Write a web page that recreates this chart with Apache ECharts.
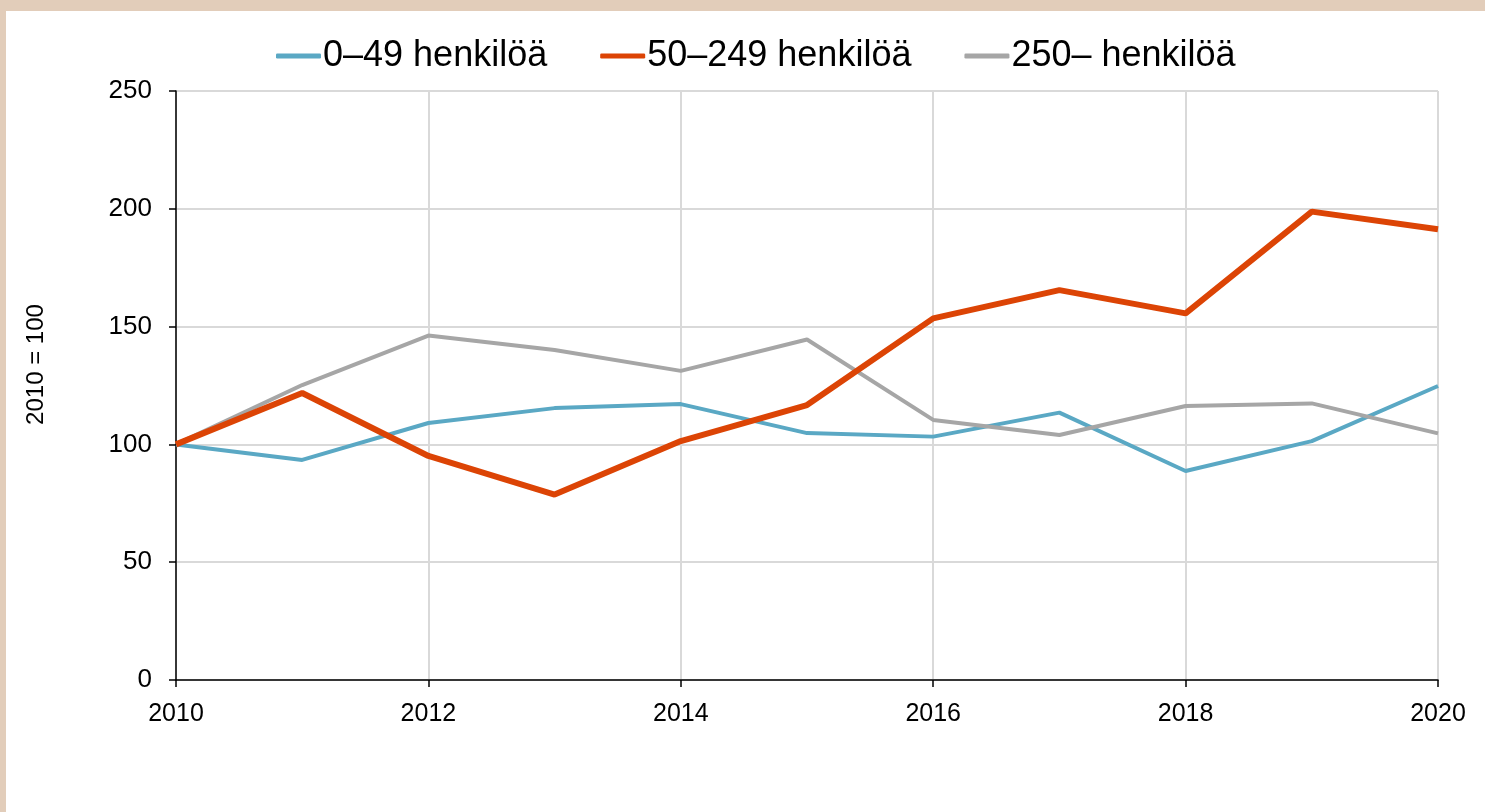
<!DOCTYPE html>
<html>
<head>
<meta charset="utf-8">
<script src="https://cdn.jsdelivr.net/npm/echarts@6/dist/echarts.min.js"></script>
<style>
  html, body { margin: 0; padding: 0; background: #e2cdba; }
  #main { position: absolute; left: 6px; top: 11px; width: 1479px; height: 801px; background: #ffffff; }
</style>
</head>
<body>
<div id="main"></div>
<script>
var years = ['2010', '2011', '2012', '2013', '2014', '2015', '2016', '2017', '2018', '2019', '2020'];
var seriesNames = ['0–49 henkilöä', '50–249 henkilöä', '250– henkilöä'];
var small = [100, 93.4, 109.1, 115.4, 117.1, 104.8, 103.3, 113.5, 88.7, 101.4, 124.8];
var medium = [100, 121.8, 95.1, 78.7, 101.4, 116.7, 153.5, 165.5, 155.6, 198.8, 191.3];
var large = [100, 125.2, 146.2, 140.1, 131.2, 144.5, 110.4, 104.0, 116.3, 117.4, 104.7];
var yTicks = [0, 50, 100, 150, 200, 250];

var chart = echarts.init(document.getElementById('main'));

var font = 'Liberation Sans, Arial, sans-serif';

var option = {
	animation : false,
	textStyle : {
		fontFamily : font
	},
	legend : {
		left : 265,
		top : 22,
		icon : 'roundRect',
		itemWidth : 45,
		itemHeight : 5,
		itemGap : 53,
		textStyle : {
			fontSize : 36,
			color : '#000',
			fontFamily : font,
			padding : [ 0, 0, 0, -3 ]
		},
		data : seriesNames
	},
	grid : {
		left : 170,
		right : 47,
		top : 80,
		bottom : 132
	},
	xAxis : {
		type : 'category',
		boundaryGap : false,
		data : years,
		axisLine : {
			lineStyle : {
				color : '#000',
				width : 1.5
			}
		},
		axisTick : {
			interval : 1,
			length : 7,
			lineStyle : {
				color : '#000',
				width : 1.5
			}
		},
		axisLabel : {
			interval : 1,
			margin : 22,
			fontSize : 25,
			color : '#000',
			fontFamily : font
		},
		splitLine : {
			show : true,
			interval : 1,
			lineStyle : {
				color : '#d9d9d9',
				width : 2
			}
		}
	},
	yAxis : {
		type : 'value',
		min : yTicks[0],
		max : yTicks[yTicks.length - 1],
		interval : 50,
		name : '2010 = 100',
		nameLocation : 'middle',
		nameRotate : 90,
		nameGap : 128,
		nameTextStyle : {
			fontSize : 24,
			color : '#000',
			fontFamily : font,
			padding : [ 0, 0, 0, 42 ]
		},
		axisLine : {
			show : true,
			lineStyle : {
				color : '#000',
				width : 1.5
			}
		},
		axisTick : {
			show : true,
			length : 7,
			lineStyle : {
				color : '#000',
				width : 1.5
			}
		},
		axisLabel : {
			margin : 24,
			fontSize : 26,
			color : '#000',
			fontFamily : font
		},
		splitLine : {
			lineStyle : {
				color : '#d9d9d9',
				width : 2
			}
		}
	},
	series : [ {
		name : seriesNames[0],
		type : 'line',
		data : small,
		symbol : 'none',
		color : '#5aa8c4',
		z : 3,
		lineStyle : {
			width : 4
		}
	}, {
		name : seriesNames[1],
		type : 'line',
		data : medium,
		symbol : 'none',
		color : '#dc4405',
		z : 5,
		lineStyle : {
			width : 6
		}
	}, {
		name : seriesNames[2],
		type : 'line',
		data : large,
		symbol : 'none',
		color : '#a6a6a6',
		z : 4,
		lineStyle : {
			width : 4
		}
	} ]
};

chart.setOption(option);
</script>
</body>
</html>
